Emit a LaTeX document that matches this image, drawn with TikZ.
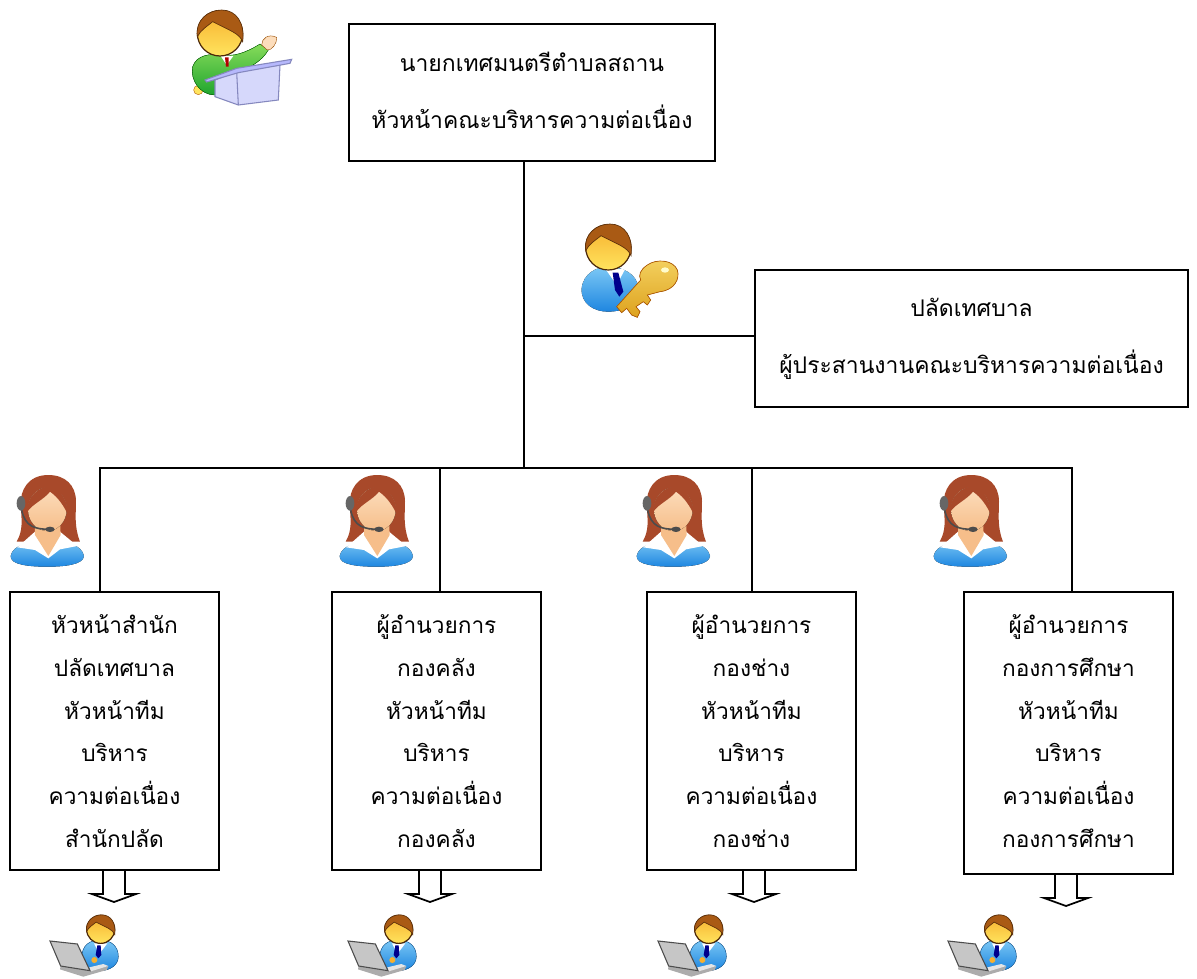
\documentclass[tikz,border=0pt]{standalone}
\usepackage{fontspec}
\setmainfont[Script=Thai]{Loma}
\definecolor{hairman}{HTML}{A95A14}
\definecolor{hairwoman}{HTML}{A8492A}
\definecolor{faceT}{HTML}{F7B02E}
\definecolor{faceB}{HTML}{FFE45E}
\definecolor{suitT}{HTML}{7CC8F5}
\definecolor{suitB}{HTML}{1E86E0}
\definecolor{greenT}{HTML}{86DB5A}
\definecolor{greenB}{HTML}{1FA52E}
\definecolor{goldT}{HTML}{F4D160}
\definecolor{goldB}{HTML}{DDA21E}
\definecolor{podiumF}{HTML}{D6D8FB}
\definecolor{podiumE}{HTML}{8588BE}
\definecolor{skinT}{HTML}{FCDDBC}
\definecolor{skinB}{HTML}{F6BE8A}
\newcommand{\manhead}{%
    \fill[draw=black!55!hairman,line width=.9pt,top color=faceT,bottom color=faceB] (0,0) circle (68);
    \fill[draw=black!45!hairman,line width=.5pt,fill=hairman] (-68,10) .. controls (-75,-40) and (-35,-70) .. (5,-70) .. controls (50,-70) and (75,-30) .. (68,25) .. controls (58,0) and (30,-8) .. (-22,-35) .. controls (-40,-20) and (-58,-10) .. (-68,10) -- cycle;
}
\tikzset{
  ln/.style={line width=1.5pt,black},
  boxn/.style={draw=black,line width=1.5pt,fill=white,align=center,inner sep=0pt,font=\fontsize{17}{32}\selectfont},
  womanicon/.pic={
    \begin{scope}[scale=1/3]
    \fill[hairwoman] (145,15) .. controls (85,15) and (60,60) .. (62,105) .. controls (65,150) and (70,180) .. (50,215) -- (240,215) .. controls (222,170) and (228,130) .. (228,95) .. controls (228,45) and (195,15) .. (145,15) -- cycle;
    \fill[top color=suitT,bottom color=suitB] (32,258) .. controls (38,225) and (85,215) .. (145,210) .. controls (205,215) and (245,225) .. (252,258) .. controls (250,285) and (190,290) .. (142,290) .. controls (90,290) and (30,285) .. (32,258) -- cycle;
    \fill[white] (52,232) -- (105,185) -- (180,185) -- (232,228) -- (180,238) -- (145,265) -- (105,240) -- cycle;
    \fill[skinB] (105,150) -- (180,150) -- (182,195) -- (145,258) -- (105,195) -- cycle;
    \fill[top color=skinT,bottom color=skinB] (142,118) ellipse (58 and 65);
    \fill[hairwoman] (82,125) .. controls (80,80) and (115,50) .. (150,50) .. controls (185,55) and (205,100) .. (202,130) .. controls (185,95) and (165,75) .. (150,65) .. controls (130,90) and (100,100) .. (82,125) -- cycle;
    \draw[black!70,line width=1.2pt] (65,120) .. controls (75,170) and (105,178) .. (150,178);
    \fill[gray!80!black] (63,100) ellipse (13 and 22);
    \fill[gray!60!black] (150,178) ellipse (14 and 8);
    \end{scope}
  },
  laptopicon/.pic={
    \begin{scope}[scale=1/3]
    \fill[top color=suitT,bottom color=suitB,draw=suitB!70!black,line width=.3pt] (125,235) .. controls (125,195) and (150,180) .. (180,180) .. controls (215,180) and (235,200) .. (235,230) .. controls (235,255) and (210,272) .. (180,272) .. controls (150,272) and (125,260) .. (125,235) -- cycle;
    \fill[white] (162,190) -- (202,190) -- (178,222) -- cycle;
    \fill[blue!55!black] (172,196) -- (182,196) -- (184,225) -- (175,235) -- (167,225) -- cycle;
    \begin{scope}[shift={(182,148)},scale=0.62]
    \manhead
    \end{scope}
    \fill[faceT] (163,240) circle (9);
    \fill[gray!65] (62,258) -- (150,272) -- (205,258) -- (200,270) -- (130,290) -- (60,268) -- cycle;
    \fill[gray!20] (148,262) -- (190,252) -- (205,258) -- (152,274) -- cycle;
    \fill[gray!45,draw=gray!60!black,line width=.8pt] (30,183) -- (112,192) -- (150,272) -- (62,258) -- cycle;
    \end{scope}
  },
  speakericon/.pic={
    \begin{scope}[scale=1/3]
    \fill[faceB,draw=orange!70!black,line width=.3pt] (85,270) circle (14);
    \fill[top color=greenT,bottom color=greenB,draw=green!40!black,line width=.3pt] (68,200) .. controls (80,165) and (120,160) .. (155,165) .. controls (190,170) and (225,160) .. (270,132) -- (295,150) .. controls (275,185) and (235,205) .. (200,220) -- (135,285) .. controls (90,285) and (60,240) .. (68,200) -- cycle;
    \fill[skinT,draw=orange!60!black,line width=.3pt] (275,135) .. controls (275,115) and (295,100) .. (320,112) .. controls (322,130) and (305,152) .. (292,150) -- cycle;
    \fill[white] (150,165) -- (190,168) -- (170,195) -- cycle;
    \fill[red!70!black] (165,172) -- (176,172) -- (176,200) -- (168,200) -- cycle;
    \begin{scope}[shift={(150,100)}]
    \manhead
    \end{scope}
    \fill[fill=podiumF,draw=podiumE,line width=.8pt] (135,240) -- (200,215) -- (330,195) -- (325,300) -- (205,315) -- (135,290) -- cycle;
    \draw[podiumE,line width=.8pt] (200,215) -- (205,315);
    \fill[fill=podiumF!85!blue,draw=podiumE,line width=.8pt] (105,240) -- (200,205) -- (365,178) -- (360,190) -- (205,218) -- (110,246) -- cycle;
    \end{scope}
  },
  keyicon/.pic={
    \begin{scope}[scale=1/3]
    \fill[top color=suitT,bottom color=suitB] (65,235) .. controls (70,190) and (110,170) .. (145,170) .. controls (185,170) and (232,190) .. (235,235) .. controls (235,285) and (190,305) .. (145,305) .. controls (100,305) and (62,280) .. (65,235) -- cycle;
    \fill[white] (135,175) -- (195,178) -- (170,225) -- cycle;
    \fill[blue!55!black] (158,188) -- (175,188) -- (190,245) -- (178,260) -- (165,240) -- cycle;
    \begin{scope}[shift={(145,112)}]
    \manhead
    \end{scope}
    \fill[draw=orange!70!black,line width=.5pt,top color=goldT,bottom color=goldB] (242,210) -- (170,290) -- (185,308) -- (200,295) -- (215,315) -- (232,322) -- (240,305) -- (228,290) -- (250,275) -- (262,285) -- (272,270) -- (262,255) -- (300,245) .. controls (345,240) and (360,205) .. (352,180) .. controls (340,150) and (290,145) .. (262,165) .. controls (240,180) and (235,195) .. (242,210) -- cycle;
    \fill[yellow!20!white] (315,180) ellipse (12 and 8);
    \end{scope}
  },
  hollowarrow/.pic={
    \draw[ln,fill=white,line width=1.3pt] (-11,0) -- (-11,23) -- (-22,23) -- (0,31) -- (22,23) -- (11,23) -- (11,0);
  }
}
\begin{document}
\begin{tikzpicture}[x=0.75pt,y=-0.75pt]
\useasboundingbox (0,0) rectangle (1197,979);
\fill[white] (0,0) rectangle (1197,979);

\coordinate (j) at (524,468);
\coordinate (jr) at (524,336);
\coordinate (s1) at (100,468);
\coordinate (s2) at (440,468);
\coordinate (s3) at (752,468);
\coordinate (s4) at (1072,468);

\node[boxn,minimum width=274.5pt,minimum height=102.75pt,font=\fontsize{17.2}{42.75}\selectfont] (top) at (532,92.5) {\raisebox{3pt}{นายกเทศมนตรีตำบลสถาน}\\\raisebox{3pt}{หัวหน้าคณะบริหารความต่อเนื่อง}};
\node[boxn,minimum width=324.75pt,minimum height=102.75pt,font=\fontsize{17.2}{42.75}\selectfont] (chief) at (971.5,338.5) {\raisebox{1.5pt}{ปลัดเทศบาล}\\\raisebox{1.5pt}{ผู้ประสานงานคณะบริหารความต่อเนื่อง}};
\node[boxn,minimum width=156.75pt,minimum height=208.5pt] (b1) at (114.5,731) {หัวหน้าสำนัก\\ปลัดเทศบาล\\หัวหน้าทีม\\บริหาร\\ความต่อเนื่อง\\สำนักปลัด};
\node[boxn,minimum width=156.75pt,minimum height=208.5pt] (b2) at (436.5,731) {ผู้อำนวยการ\\กองคลัง\\หัวหน้าทีม\\บริหาร\\ความต่อเนื่อง\\กองคลัง};
\node[boxn,minimum width=156.75pt,minimum height=208.5pt] (b3) at (751.5,731) {ผู้อำนวยการ\\กองช่าง\\หัวหน้าทีม\\บริหาร\\ความต่อเนื่อง\\กองช่าง};
\node[boxn,minimum width=156.75pt,minimum height=211.5pt] (b4) at (1068.5,733) {ผู้อำนวยการ\\กองการศึกษา\\หัวหน้าทีม\\บริหาร\\ความต่อเนื่อง\\กองการศึกษา\rule[-3pt]{0pt}{3pt}};

\draw[ln] (top.south -| j) -- (j);
\draw[ln] (jr) -- (jr -| chief.west);
\draw[ln,line cap=rect] (s1) -- (s4);
\draw[ln] (s1) -- (s1 |- b1.north);
\draw[ln] (s2) -- (s2 |- b2.north);
\draw[ln] (s3) -- (s3 |- b3.north);
\draw[ln] (s4) -- (s4 |- b4.north);

\coordinate (a1) at (114,870);
\coordinate (a2) at (430,870);
\coordinate (a3) at (754,870);
\coordinate (a4) at (1066,874);
\pic at (a1 |- b1.south) {hollowarrow};
\pic at (a2 |- b2.south) {hollowarrow};
\pic at (a3 |- b3.south) {hollowarrow};
\pic at (a4 |- b4.south) {hollowarrow};

\pic at (170,0) {speakericon};
\pic at (560,210) {keyicon};
\pic at (0,470) {womanicon};
\pic at (329,470) {womanicon};
\pic at (626,470) {womanicon};
\pic at (923,470) {womanicon};
\pic at (40,880) {laptopicon};
\pic at (338,880) {laptopicon};
\pic at (648,880) {laptopicon};
\pic at (938,880) {laptopicon};
\end{tikzpicture}
\end{document}
